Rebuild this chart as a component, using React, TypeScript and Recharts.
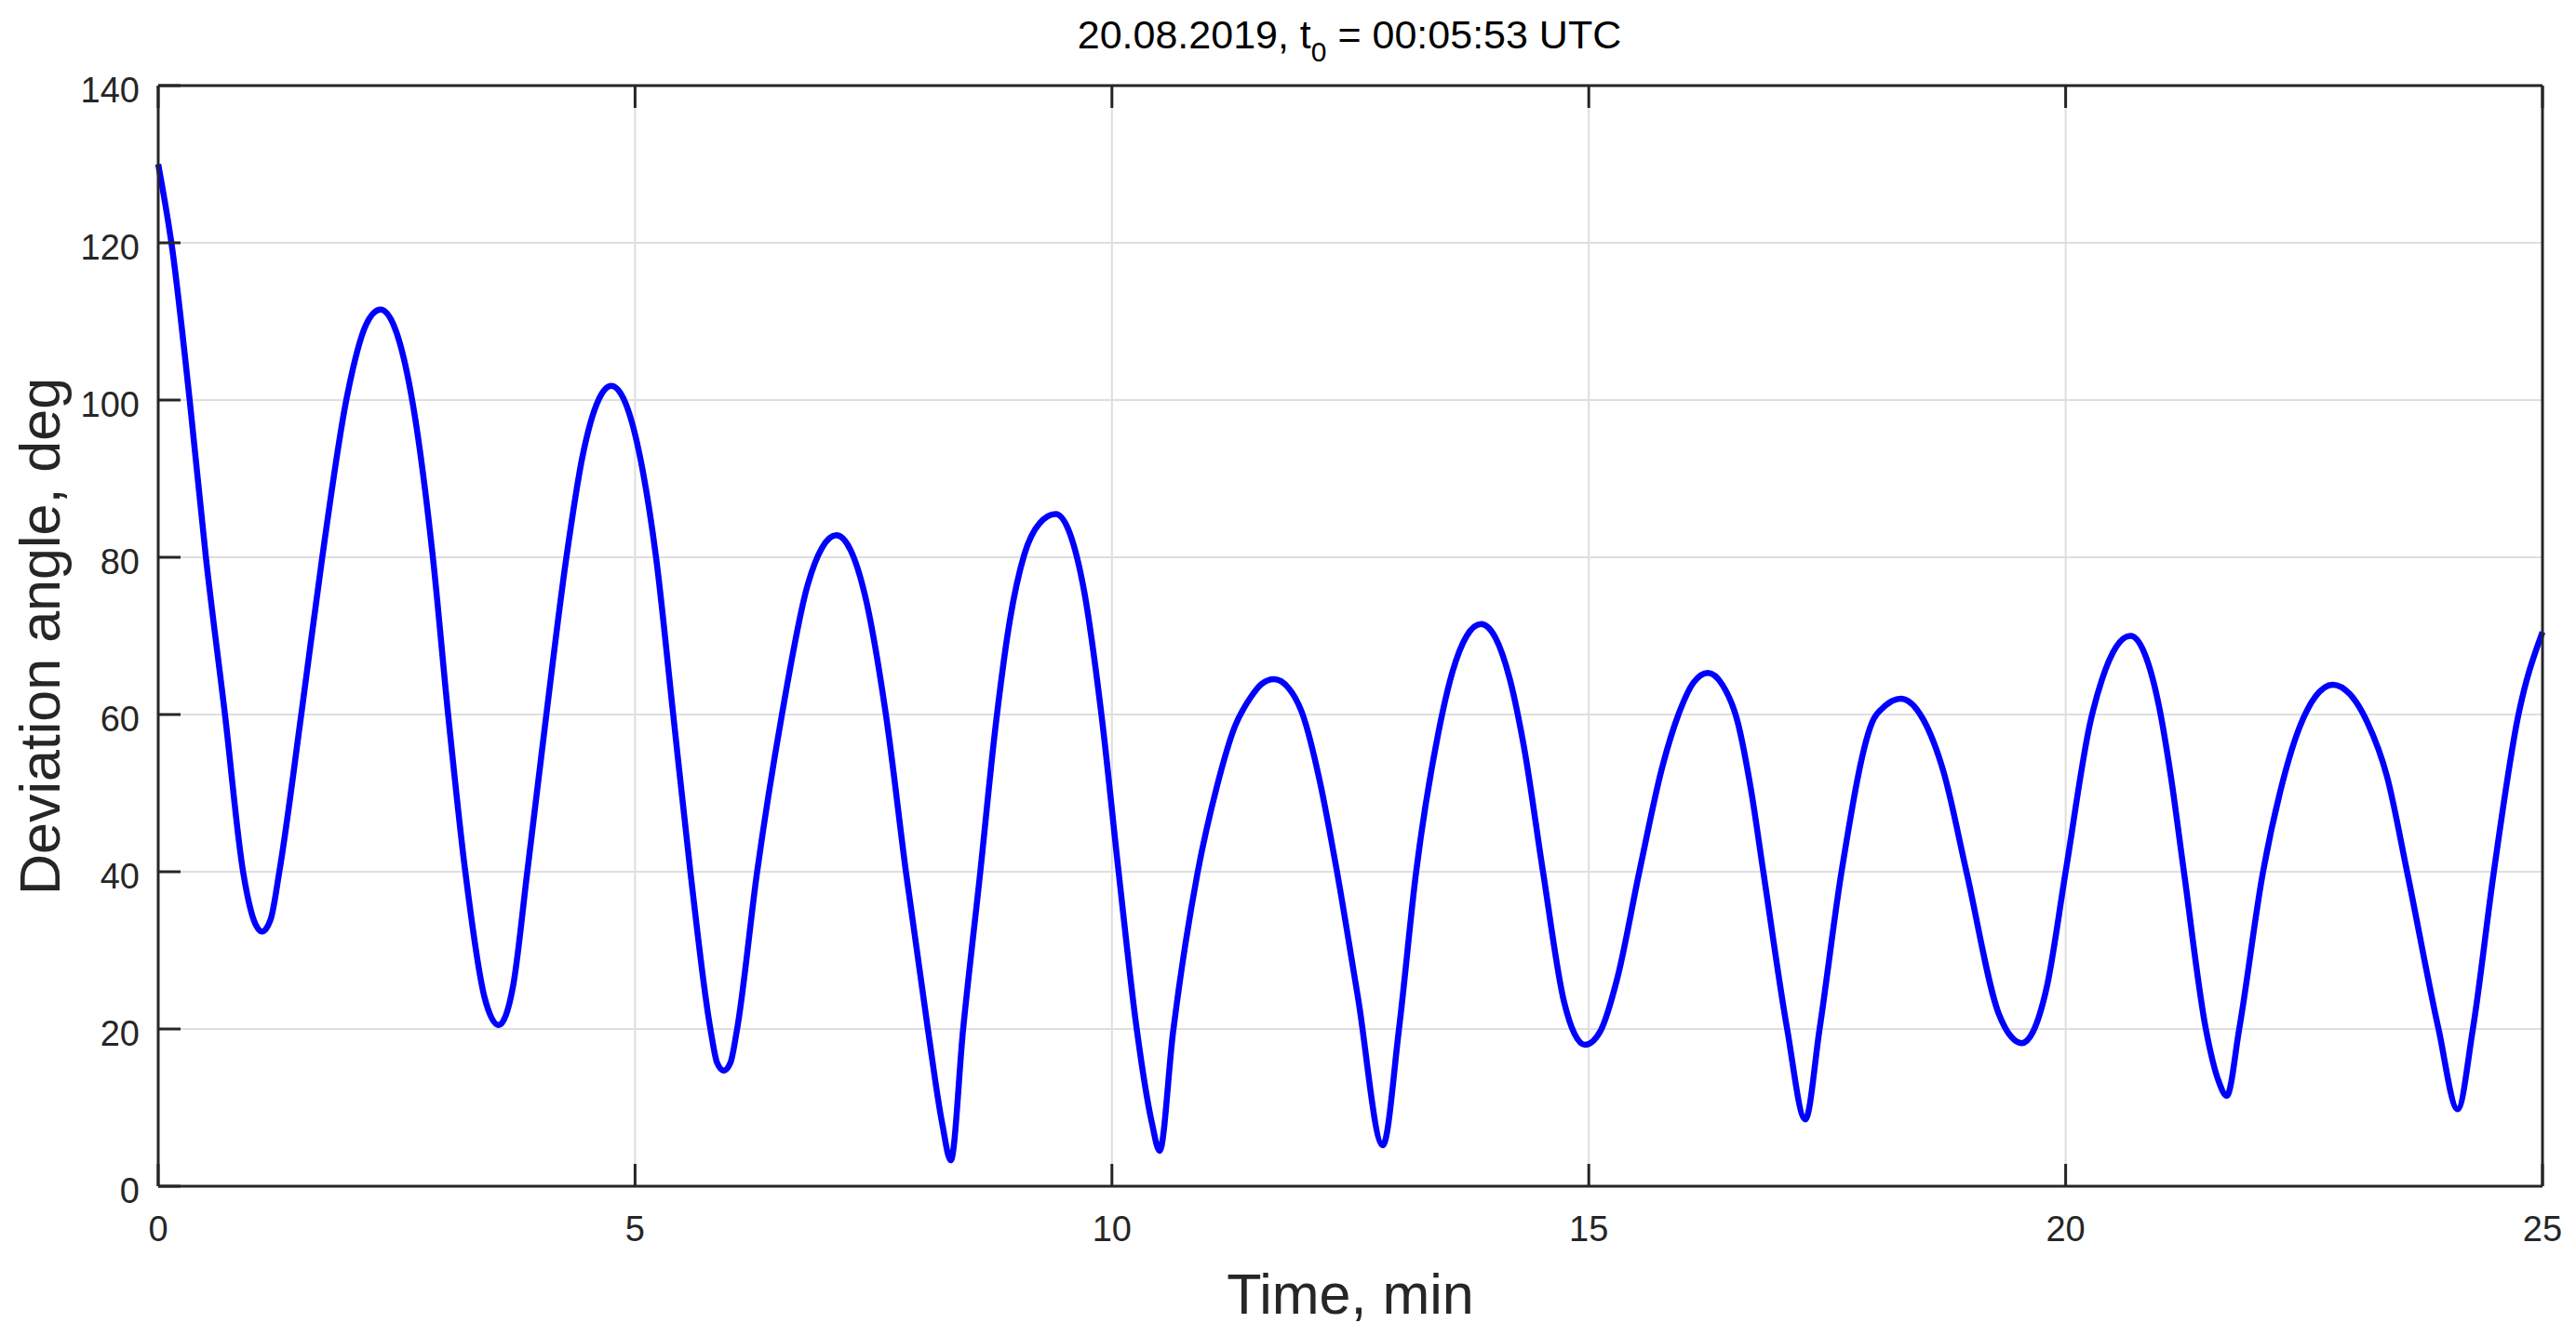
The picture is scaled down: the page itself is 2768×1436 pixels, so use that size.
import { LineChart, Line, XAxis, YAxis, CartesianGrid } from 'recharts';

// Time axis (minutes) and deviation angle (deg)
const timeMin = [
  0, 0.15, 0.33, 0.5, 0.7, 0.89, 0.99, 1.09, 1.18, 1.27, 1.5, 1.72, 1.98, 2.18, 2.33, 2.48,
  2.67, 2.88, 3.04, 3.22, 3.42, 3.57, 3.72, 3.87, 4.07, 4.28, 4.45, 4.62, 4.75, 4.9, 5.06,
  5.22, 5.4, 5.58, 5.79, 5.86, 5.93, 6.0, 6.07, 6.28, 6.54, 6.81, 6.96, 7.11, 7.26, 7.41,
  7.63, 7.84, 8.07, 8.22, 8.31, 8.44, 8.62, 8.78, 8.93, 9.08, 9.24, 9.41, 9.56, 9.71, 9.89,
  10.07, 10.26, 10.42, 10.5, 10.64, 10.9, 11.1, 11.29, 11.45, 11.57, 11.7, 11.85, 12.0,
  12.18, 12.36, 12.58, 12.84, 13.01, 13.19, 13.42, 13.57, 13.72, 13.87, 14.02, 14.17, 14.32,
  14.52, 14.74, 14.85, 14.96, 15.12, 15.3, 15.53, 15.77, 15.94, 16.1, 16.25, 16.4, 16.56,
  16.7, 16.83, 17.08, 17.27, 17.42, 17.65, 17.99, 18.08, 18.27, 18.51, 18.72, 18.96, 19.3,
  19.43, 19.54, 19.66, 19.8, 20.0, 20.26, 20.38, 20.53, 20.68, 20.83, 20.98, 21.1, 21.24,
  21.47, 21.6, 21.69, 21.82, 22.07, 22.25, 22.45, 22.62, 22.8, 22.98, 23.16, 23.37, 23.58,
  23.91, 24.11, 24.27, 24.49, 24.74, 25,
];
const angleDeg = [
  130, 119, 100, 80, 60, 40, 34.3, 32.4, 34, 40, 60, 80, 100.5, 109.6, 111.5, 109.2,
  99.5, 80, 60, 40, 24.1, 20.5, 25.4, 40, 60, 80, 92.9, 100.1, 101.8, 99.6, 92.3,
  80, 60, 40, 20, 15.7, 14.7, 15.7, 20, 40, 60, 76.5, 81.2, 82.8, 80.9, 75.2,
  60, 40, 20, 8, 3.3, 20, 40, 58.5, 72, 80.3, 84.3, 85.5, 83, 75.6, 60,
  40, 20, 8, 4.5, 19.5, 40, 50.8, 58.5, 62.1, 63.9, 64.5, 63.4, 60,
  51.5, 40, 24, 5.2, 20, 40, 57.5, 65.4, 70, 71.5, 69.8, 64.6, 55.9,
  40, 23.5, 19.4, 18, 19.7, 26.5, 40, 53.3, 60, 64.1, 65.3, 63.8, 59.1,
  50.5, 40, 20, 8.5, 20, 40, 59.5, 60.8, 62, 59.3, 52.7, 40, 21.9,
  19, 18.2, 19.7, 25.2, 40, 59.1, 64.4, 68.6, 70, 67.7, 61, 52.4, 40,
  20, 13.5, 11.5, 20, 40, 50.2, 58.3, 62.3, 63.8, 62.6, 59.1, 52.1, 40,
  20, 9.8, 20, 40, 59.5, 70.5,
];

const xTicks = [0, 5, 10, 15, 20, 25];
const yTicks = [0, 20, 40, 60, 80, 100, 120, 140];

const series = timeMin.map((t, i) => ({ t, v: angleDeg[i] }));

const FONT = '"Liberation Sans", Arial, Helvetica, sans-serif';
const AXIS = '#262626';
const blank = () => '';

export default function App() {
  return (
    <div style={{ position: 'absolute', left: 0, top: 0, width: 2768, height: 1436, background: '#fff', fontFamily: FONT }}>
      <LineChart width={2768} height={1436} data={series} margin={{ top: 91, right: 35, bottom: 0, left: 0 }}>
        <CartesianGrid stroke="#dedede" strokeWidth={2} />
        <XAxis
          dataKey="t"
          type="number"
          domain={[0, 25]}
          ticks={xTicks}
          interval={0}
          height={161}
          tickSize={-24}
          tickMargin={56}
          axisLine={{ stroke: AXIS, strokeWidth: 3 }}
          tickLine={{ stroke: AXIS, strokeWidth: 3 }}
          tick={{ fill: AXIS, fontSize: 38, fontFamily: FONT }}
        />
        <XAxis
          xAxisId="top"
          orientation="top"
          dataKey="t"
          type="number"
          domain={[0, 25]}
          ticks={xTicks}
          interval={0}
          height={1}
          tickSize={-24}
          tickFormatter={blank}
          axisLine={{ stroke: AXIS, strokeWidth: 3 }}
          tickLine={{ stroke: AXIS, strokeWidth: 3 }}
        />
        <YAxis
          type="number"
          domain={[0, 140]}
          ticks={yTicks}
          interval={0}
          width={170}
          tickSize={-24}
          tickMargin={44}
          axisLine={{ stroke: AXIS, strokeWidth: 3 }}
          tickLine={{ stroke: AXIS, strokeWidth: 3 }}
          tick={{ fill: AXIS, fontSize: 38, fontFamily: FONT, dy: 5 }}
        />
        <YAxis
          yAxisId="right"
          orientation="right"
          type="number"
          domain={[0, 140]}
          ticks={yTicks}
          interval={0}
          width={1}
          tickSize={-24}
          tickFormatter={blank}
          axisLine={{ stroke: AXIS, strokeWidth: 3 }}
          tickLine={{ stroke: AXIS, strokeWidth: 3 }}
        />
        <Line
          type="monotone"
          dataKey="v"
          stroke="#0000ff"
          strokeWidth={6.5}
          dot={false}
          isAnimationActive={false}
        />
      </LineChart>
      <svg
        width={2768}
        height={1436}
        style={{ position: 'absolute', left: 0, top: 0, pointerEvents: 'none' }}
        fontFamily={FONT}
      >
        <text x={1450} y={52} textAnchor="middle" fontSize={43} fill="#000">
          20.08.2019, t<tspan dy={14} fontSize={30}>0</tspan>
          <tspan dy={-14}> = 00:05:53 UTC</tspan>
        </text>
        <text x={1451} y={1412} textAnchor="middle" fontSize={61} fill={AXIS}>
          Time, min
        </text>
        <text transform="translate(64,684) rotate(-90)" textAnchor="middle" fontSize={61} fill={AXIS}>
          Deviation angle, deg
        </text>
      </svg>
    </div>
  );
}
